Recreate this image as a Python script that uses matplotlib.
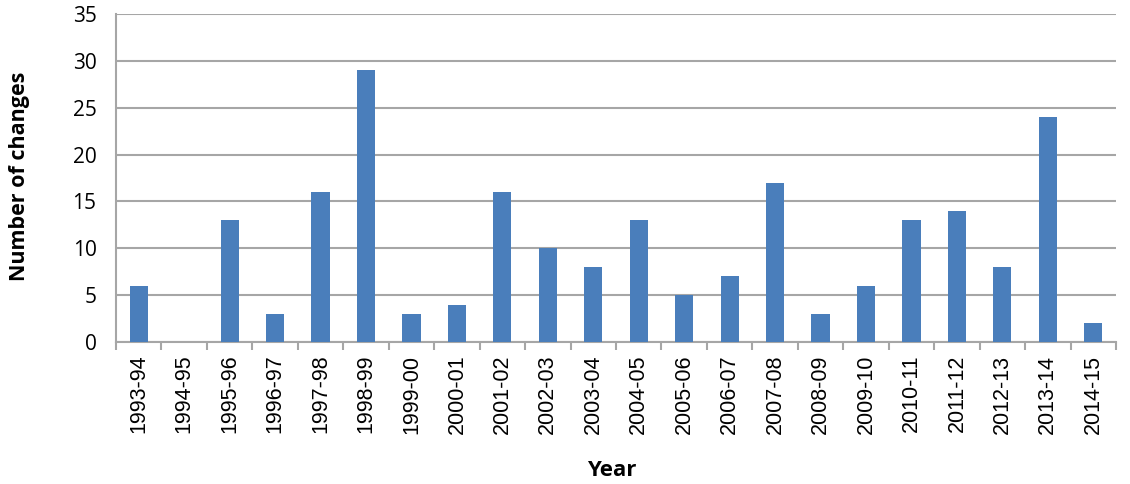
import matplotlib
matplotlib.use("Agg")
import matplotlib.pyplot as plt
import numpy as np

years = ["1993-94", "1994-95", "1995-96", "1996-97", "1997-98", "1998-99", "1999-00",
         "2000-01", "2001-02", "2002-03", "2003-04", "2004-05", "2005-06", "2006-07",
         "2007-08", "2008-09", "2009-10", "2010-11", "2011-12", "2012-13", "2013-14", "2014-15"]
changes = [6, 0, 13, 3, 16, 29, 3, 4, 16, 10, 8, 13, 5, 7, 17, 3, 6, 13, 14, 8, 24, 2]
yticks = [0, 5, 10, 15, 20, 25, 30, 35]

fig = plt.figure(figsize=(11.3, 4.84), dpi=100)
ax = fig.add_axes([116/1130, 1-342/484, 1000/1130, 328/484])

x = np.arange(len(years))
ax.bar(x, changes, width=0.4, color="#4a7ebb", zorder=3)

ax.set_xlim(-0.5, len(years) - 0.5)
ax.set_ylim(0, 35)
ax.set_yticks(yticks)
ax.set_yticklabels([str(v) for v in yticks], fontfamily="Open Sans", fontsize=15)
ax.yaxis.grid(True, color="#a6a6a6", linewidth=1.5, zorder=0)
ax.tick_params(axis="y", length=0, pad=14)

ax.set_xticks(x)
ax.set_xticklabels(years, rotation=90, fontfamily="Liberation Sans", fontsize=15.5)
ax.set_xticks(np.arange(-0.5, len(years), 1), minor=True)
ax.tick_params(axis="x", which="major", length=0, pad=9)
ax.tick_params(axis="x", which="minor", length=6, color="#a6a6a6", width=1.5)

for s in ["top", "right"]:
    ax.spines[s].set_visible(False)
for s in ["left", "bottom"]:
    ax.spines[s].set_color("#a6a6a6")
    ax.spines[s].set_linewidth(1.5)

fig.text(20/1130, 1-176/484, "Number of changes", rotation=90, ha="center", va="center",
         fontfamily="Open Sans", fontweight="bold", fontsize=15.5)
fig.text(612/1130, 1-470/484, "Year", ha="center", va="center",
         fontfamily="Open Sans", fontweight="bold", fontsize=16)

fig.savefig("out.png", dpi=100)
